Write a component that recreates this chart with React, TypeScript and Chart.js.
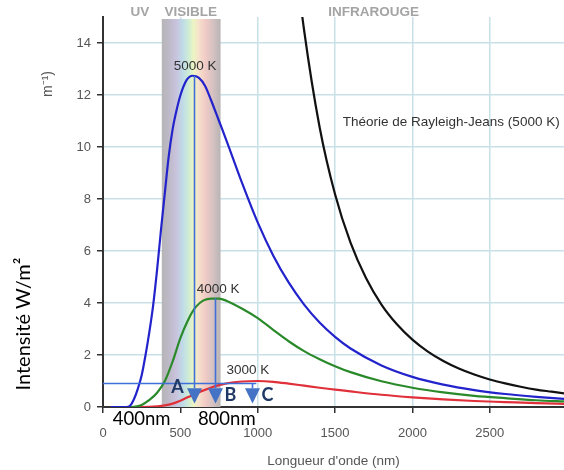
import React, { useEffect, useRef } from "react";
import { Chart, registerables } from "chart.js";

Chart.register(...registerables);

// Wavelengths (nm) and spectral intensity
const lambda5000 = [50, 100, 150, 175, 200, 225, 250, 275, 300, 325, 350, 375, 400, 425, 450, 475, 500, 540, 580, 620, 660, 700, 750, 800, 900, 1000, 1100, 1200, 1300, 1400, 1500, 1600, 1800, 2000, 2200, 2400, 2600, 2800, 3000];
const curve5000 = [0, 0, 0, 0.05, 0.3, 0.7, 1.22, 2.0, 2.9, 3.95, 5.3, 6.82, 8.25, 9.65, 10.68, 11.4, 11.98, 12.57, 12.74, 12.66, 12.35, 11.78, 11.0, 10.22, 8.6, 7.1, 5.83, 4.79, 3.94, 3.25, 2.7, 2.25, 1.6, 1.16, 0.86, 0.65, 0.5, 0.39, 0.3];

const lambda4000 = [50, 100, 150, 200, 250, 300, 350, 400, 450, 500, 550, 600, 650, 700, 750, 800, 900, 1000, 1100, 1200, 1300, 1400, 1500, 1600, 1800, 2000, 2200, 2400, 2600, 2800, 3000];
const curve4000 = [0, 0, 0, 0.01, 0.08, 0.27, 0.55, 1.0, 1.75, 2.65, 3.35, 3.85, 4.1, 4.17, 4.17, 4.08, 3.78, 3.42, 2.97, 2.53, 2.15, 1.84, 1.57, 1.34, 0.99, 0.74, 0.56, 0.43, 0.34, 0.26, 0.21];

const lambda3000 = [50, 100, 200, 300, 350, 400, 450, 500, 550, 600, 650, 700, 750, 800, 900, 1000, 1100, 1200, 1300, 1400, 1500, 1600, 1800, 2000, 2200, 2400, 2600, 2800, 3000];
const curve3000 = [0, 0, 0, 0.006, 0.025, 0.06, 0.13, 0.24, 0.38, 0.52, 0.64, 0.75, 0.84, 0.91, 0.98, 1.0, 0.97, 0.9, 0.82, 0.74, 0.67, 0.6, 0.47, 0.37, 0.29, 0.23, 0.19, 0.15, 0.12];

const lambdaRJ = [1200, 1250, 1300, 1400, 1500, 1600, 1700, 1800, 1900, 2000, 2100, 2200, 2300, 2400, 2500, 2600, 2700, 2800, 2900, 3000];
const curveRJ = [19.96, 16.95, 14.49, 10.77, 8.18, 6.32, 4.96, 3.94, 3.18, 2.59, 2.13, 1.77, 1.48, 1.25, 1.06, 0.91, 0.78, 0.67, 0.59, 0.51];

const seriesNames = ["5000 K", "4000 K", "3000 K", "Théorie de Rayleigh-Jeans (5000 K)"];
const xTicks = [0, 500, 1000, 1500, 2000, 2500];
const yTicks = [0, 2, 4, 6, 8, 10, 12, 14];
const visibleBand = [380, 760];
const peakA = [588, 12.74];
const peakB = [722, 4.18];
const levelC = [0.935, 966, 991];

const TICK_FONT = "Liberation Sans";

const pairs = (xs: number[], ys: number[]) => xs.map((x, i) => ({ x, y: ys[i] }));

const overlay = {
  id: "overlay",
  beforeDatasetsDraw(chart: any) {
    const { ctx, chartArea, scales } = chart;
    const xs = scales.x;
    const x0 = xs.getPixelForValue(visibleBand[0]);
    const x1 = xs.getPixelForValue(visibleBand[1]);
    const top = chartArea.top + 2;
    const bottom = chartArea.bottom;
    const g = ctx.createLinearGradient(x0, 0, x1, 0);
    g.addColorStop(0, "#b7b5b7");
    g.addColorStop(0.1, "#bcb8c4");
    g.addColorStop(0.24, "#c9c2dc");
    g.addColorStop(0.36, "#bfdce8");
    g.addColorStop(0.46, "#cfecd4");
    g.addColorStop(0.54, "#ecf5c2");
    g.addColorStop(0.62, "#f6e2cc");
    g.addColorStop(0.74, "#f1cbc5");
    g.addColorStop(0.87, "#d5c2c2");
    g.addColorStop(1, "#b8b4b4");
    ctx.save();
    ctx.fillStyle = g;
    ctx.fillRect(x0, top, x1 - x0, bottom - top);
    ctx.restore();
  },
  afterDatasetsDraw(chart: any) {
    const { ctx, scales } = chart;
    const xs = scales.x;
    const ys = scales.y;
    const blue = "#3f6fd8";
    ctx.save();
    const arrowTop = ys.getPixelForValue(0.72);
    const arrowTip = ys.getPixelForValue(0.13);
    const drawArrow = (px: number) => {
      ctx.beginPath();
      ctx.moveTo(px - 7.5, arrowTop);
      ctx.lineTo(px + 7.5, arrowTop);
      ctx.lineTo(px, arrowTip);
      ctx.closePath();
      ctx.fillStyle = "#4472c4";
      ctx.fill();
    };
    ctx.strokeStyle = blue;
    ctx.lineWidth = 1.6;
    const ax = Math.round(xs.getPixelForValue(peakA[0])) + 0.5;
    ctx.beginPath();
    ctx.moveTo(ax, ys.getPixelForValue(peakA[1]));
    ctx.lineTo(ax, arrowTop);
    ctx.stroke();
    drawArrow(ax);
    const bx = Math.round(xs.getPixelForValue(peakB[0])) + 0.5;
    ctx.beginPath();
    ctx.moveTo(bx, ys.getPixelForValue(peakB[1]));
    ctx.lineTo(bx, arrowTop);
    ctx.stroke();
    drawArrow(bx);
    const cy = Math.round(ys.getPixelForValue(levelC[0])) + 0.5;
    const cx = Math.round(xs.getPixelForValue(levelC[1])) + 0.5;
    ctx.beginPath();
    ctx.moveTo(xs.getPixelForValue(0), cy);
    ctx.lineTo(xs.getPixelForValue(levelC[2]), cy);
    ctx.moveTo(cx, cy);
    ctx.lineTo(cx, arrowTop);
    ctx.stroke();
    drawArrow(cx);

    // letters
    ctx.fillStyle = "#1f3864";
    ctx.font = "bold 18px Lato";
    ctx.textAlign = "center";
    ctx.textBaseline = "middle";
    ctx.fillText("A", xs.getPixelForValue(481), ys.getPixelForValue(0.76));
    ctx.fillText("B", xs.getPixelForValue(823), ys.getPixelForValue(0.46));
    ctx.fillText("C", xs.getPixelForValue(1063), ys.getPixelForValue(0.46));

    // curve labels
    ctx.fillStyle = "#333";
    ctx.font = "13.5px " + TICK_FONT;
    ctx.fillText(seriesNames[0], xs.getPixelForValue(595), ys.getPixelForValue(13.12));
    ctx.fillText(seriesNames[1], xs.getPixelForValue(744), ys.getPixelForValue(4.53));
    ctx.fillText(seriesNames[2], xs.getPixelForValue(937), ys.getPixelForValue(1.4));
    ctx.textAlign = "left";
    ctx.fillText(seriesNames[3], xs.getPixelForValue(1550), ys.getPixelForValue(10.96));
    ctx.restore();
  },
  afterDraw(chart: any) {
    const { ctx, scales, chartArea } = chart;
    const xs = scales.x;
    const ys = scales.y;
    ctx.save();
    ctx.textAlign = "center";
    ctx.textBaseline = "middle";
    // region labels
    ctx.fillStyle = "#a4a4a4";
    ctx.font = "bold 13.5px " + TICK_FONT;
    ctx.fillText("UV", xs.getPixelForValue(238), 12);
    ctx.fillText("VISIBLE", xs.getPixelForValue(567), 12);
    ctx.fillText("INFRAROUGE", xs.getPixelForValue(1750), 12);

    // 400nm / 800nm
    ctx.fillStyle = "#000";
    ctx.font = "18.5px Lato";
    const base = ys.getPixelForValue(0);
    ctx.fillText("400nm", xs.getPixelForValue(250), base + 12);
    ctx.fillText("800nm", xs.getPixelForValue(800), base + 12);

    // x title
    ctx.fillStyle = "#555";
    ctx.font = "13.5px " + TICK_FONT;
    ctx.fillText("Longueur d'onde (nm)", (chartArea.left + chartArea.right) / 2, 461);

    // y titles
    ctx.save();
    ctx.translate(48, 84);
    ctx.rotate(-Math.PI / 2);
    ctx.fillStyle = "#555";
    ctx.font = "14px " + TICK_FONT;
    ctx.fillText("m\u207B\u00B9)", 0, 0);
    ctx.restore();

    ctx.save();
    ctx.translate(24, 324);
    ctx.rotate(-Math.PI / 2);
    ctx.fillStyle = "#000";
    ctx.font = "20px Lato";
    ctx.fillText("Intensité W/m²", 0, 0);
    ctx.restore();
    ctx.restore();
  },
};

export default function App() {
  const ref = useRef<HTMLCanvasElement | null>(null);
  useEffect(() => {
    if (!ref.current) return;
    const gridColor = "#c9e0e9";
    const chart = new Chart(ref.current, {
      type: "line",
      data: {
        datasets: [
          { label: seriesNames[0], data: pairs(lambda5000, curve5000), borderColor: "#2323cc", borderWidth: 2.2 },
          { label: seriesNames[1], data: pairs(lambda4000, curve4000), borderColor: "#2a8a2a", borderWidth: 2.2 },
          { label: seriesNames[2], data: pairs(lambda3000, curve3000), borderColor: "#e0303a", borderWidth: 2.2 },
          { label: seriesNames[3], data: pairs(lambdaRJ, curveRJ), borderColor: "#111111", borderWidth: 2.2 },
        ].map((d) => ({ ...d, pointRadius: 0, fill: false, cubicInterpolationMode: "monotone" as const })),
      },
      options: {
        animation: false,
        responsive: false,
        events: [],
        layout: { padding: { top: 17, left: 0, right: 0, bottom: 0 } },
        plugins: { legend: { display: false }, tooltip: { enabled: false } },
        scales: {
          x: {
            type: "linear",
            min: 0,
            max: 2980,
            afterFit: (s: any) => { s.height = 63; },
            afterBuildTicks: (s: any) => { s.ticks = xTicks.map((v) => ({ value: v })); },
            ticks: { color: "#555", font: { family: TICK_FONT, size: 13 }, padding: 13, maxRotation: 0, callback: (v: any) => String(v) },
            grid: { color: gridColor, lineWidth: 1.5, tickColor: "#333", tickLength: 6, tickWidth: 1.5 },
            border: { color: "#333", width: 2 },
          },
          y: {
            type: "linear",
            min: 0,
            max: 15,
            afterFit: (s: any) => { s.width = 103; },
            afterBuildTicks: (s: any) => { s.ticks = yTicks.map((v) => ({ value: v })); },
            ticks: { color: "#555", font: { family: TICK_FONT, size: 13 }, padding: 6, callback: (v: any) => String(v) },
            grid: { color: gridColor, lineWidth: 1.5, tickColor: "#333", tickLength: 6, tickWidth: 1.5 },
            border: { color: "#333", width: 2 },
          },
        },
      },
      plugins: [overlay],
    });
    return () => chart.destroy();
  }, []);
  return (
    <div style={{ position: "absolute", left: 0, top: 0, width: 564, height: 470, background: "#fff" }}>
      <canvas ref={ref} width={564} height={470} />
    </div>
  );
}
